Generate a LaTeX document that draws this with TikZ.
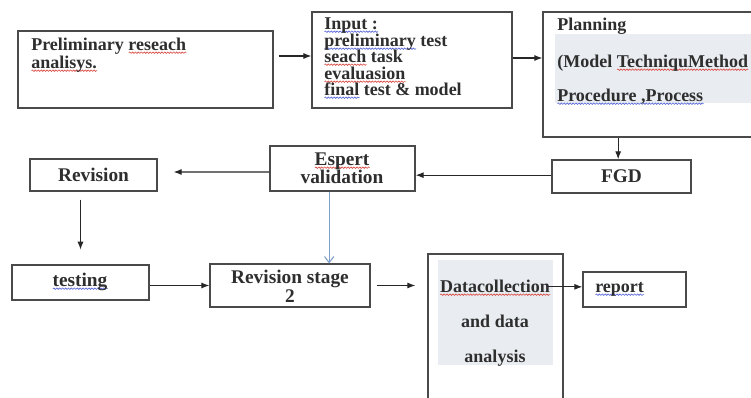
\documentclass[tikz,border=0pt]{standalone}
\usepackage{fontspec}
\setmainfont{Liberation Serif}
\usetikzlibrary{arrows.meta,fit,decorations.pathmorphing,calc}
\definecolor{txt}{HTML}{2E2E2E}
\definecolor{edge}{HTML}{4A4A4A}
\definecolor{bandcol}{HTML}{E9EDF1}
\definecolor{bluearrow}{HTML}{7F9FCB}
\definecolor{spellred}{HTML}{D9413A}
\definecolor{spellblue}{HTML}{4F5FD6}
\newsavebox\sqbox
\newlength\sqlen
\newcommand\sqw[2]{\sbox\sqbox{#2}\setlength\sqlen{\wd\sqbox}\rlap{\smash{\tikz[baseline=0pt]\draw[draw=#1,line width=0.45pt,decorate,decoration={snake,amplitude=0.55pt,segment length=2.2pt}] (0pt,-2pt) -- (\sqlen,-2pt);}}\usebox\sqbox}
\begin{document}
\begin{tikzpicture}[x=0.75pt,y=-0.75pt,
  box/.style={draw=edge,line width=0.9pt,inner sep=0pt},
  lbl/.style={text=txt,font=\bfseries\fontsize{13.5}{13.5}\selectfont,inner sep=0pt},
  big/.style={font=\bfseries\fontsize{14.5}{14}\selectfont},
  arr/.style={draw=black!85,line width=0.8pt,-{Latex[length=6pt,width=4.5pt]}},
  bluearr/.style={draw=bluearrow,line width=0.8pt,-{Straight Barb[length=4.5pt,width=7pt]}}]
\useasboundingbox (0,0) rectangle (751,397);
\fill[white] (0,0) rectangle (751,397);
% shaded bands
\fill[bandcol] (555,34) rectangle (751,103);
\fill[bandcol] (438,260) rectangle (553,365);
% boxes
\node[box,fit={(18,31) (273,108)}] (prelim) {};
\node[lbl,anchor=base west] (prelim1) at (31,50) {Preliminary \sqw{spellred}{reseach}};
\node[lbl,anchor=base west] (prelim2) at (31,68) {\sqw{spellred}{analisys.}};

\node[box,fit={(312,12) (512,108)}] (input) {};
\node[lbl,anchor=base west] (in1) at (324,29) {\sqw{spellblue}{Input :}};
\node[lbl,anchor=base west] (in2) at (324,46) {\sqw{spellblue}{preliminary} test};
\node[lbl,anchor=base west] (in3) at (324,62) {\sqw{spellred}{seach} task};
\node[lbl,anchor=base west] (in4) at (324,79) {\sqw{spellred}{evaluasion}};
\node[lbl,anchor=base west] (in5) at (324,95) {\sqw{spellblue}{final} test \& model};

\node[box,fit={(543,12) (775,137)}] (plan) {};
\node[lbl,anchor=base west] (plan0) at (557,30) {Planning};
\node[lbl,anchor=base west] (plan1) at (557,67) {(Model \sqw{spellred}{TechniquMethod}};
\node[lbl,anchor=base west] (plan2) at (557,101) {\sqw{spellblue}{Procedure ,Process}};

\node[box,fit={(552,160) (691,193)}] (fgd) {};
\node[lbl,big] (fgdtxt) at (fgd.center) {FGD};
\node[box,fit={(270,146) (415,191)}] (espert) {};
\node[lbl,big,anchor=base] (esp1) at (342,165) {\sqw{spellred}{Espert}};
\node[lbl,big,anchor=base] (esp2) at (342,183) {validation};
\node[box,fit={(30,159) (157,191)}] (revision) {};
\node[lbl,big] (revtxt) at (revision.center) {Revision};
\node[box,fit={(12,265) (149,300)}] (testing) {};
\node[lbl,big,anchor=base] (testtxt) at (80,286) {\sqw{spellblue}{testing}};
\node[box,fit={(210,264) (370,307)}] (rev2) {};
\node[lbl,big,anchor=base] (rev2a) at (290,283) {Revision stage};
\node[lbl,big,anchor=base] (rev2b) at (290,302) {2};

\node[box,fit={(428,254) (563,415)}] (data) {};
\node[lbl,anchor=base] (data1) at (495,292) {\sqw{spellred}{Datacollection}};
\node[lbl,anchor=base] (data2) at (495,327) {and data};
\node[lbl,anchor=base] (data3) at (495,362) {analysis};

\node[box,fit={(583,272) (686,307)}] (report) {};
\node[lbl,anchor=base west] (reporttxt) at (595,292) {\sqw{spellblue}{report}};

% connectors
\draw[arr] ([xshift=3.75pt,yshift=3pt]prelim.east |- input.west) -- ([yshift=3pt]input.west);
\draw[arr] ([yshift=1.5pt]input.east) -- ([yshift=1.5pt]input.east -| plan.west);
\draw[arr] ([xshift=-2.5pt]fgd.north |- plan.south) -- ([xshift=-2.5pt]fgd.north);
\draw[arr] ([yshift=1pt]fgd.west) -- ([yshift=1pt]fgd.west -| espert.east);
\draw[arr] ([yshift=-2.6pt]espert.west) -- ([xshift=12pt,yshift=2.25pt]revision.east);
\draw[arr] ([yshift=-6pt]testing.north |- revision.south) -- ([yshift=11pt]testing.north);
\draw[bluearr] ([xshift=-10pt]espert.south) -- ([xshift=-10pt]espert.south |- rev2.north);
\draw[arr] (testing.east |- rev2.west) -- (rev2.west);
\draw[arr] ([xshift=4.5pt]rev2.east) -- ([xshift=-9pt]data.west |- rev2.east);
\draw[arr] ([xshift=-12pt,yshift=2pt]data.east |- report.west) -- ([yshift=2pt]report.west);
\end{tikzpicture}
\end{document}
